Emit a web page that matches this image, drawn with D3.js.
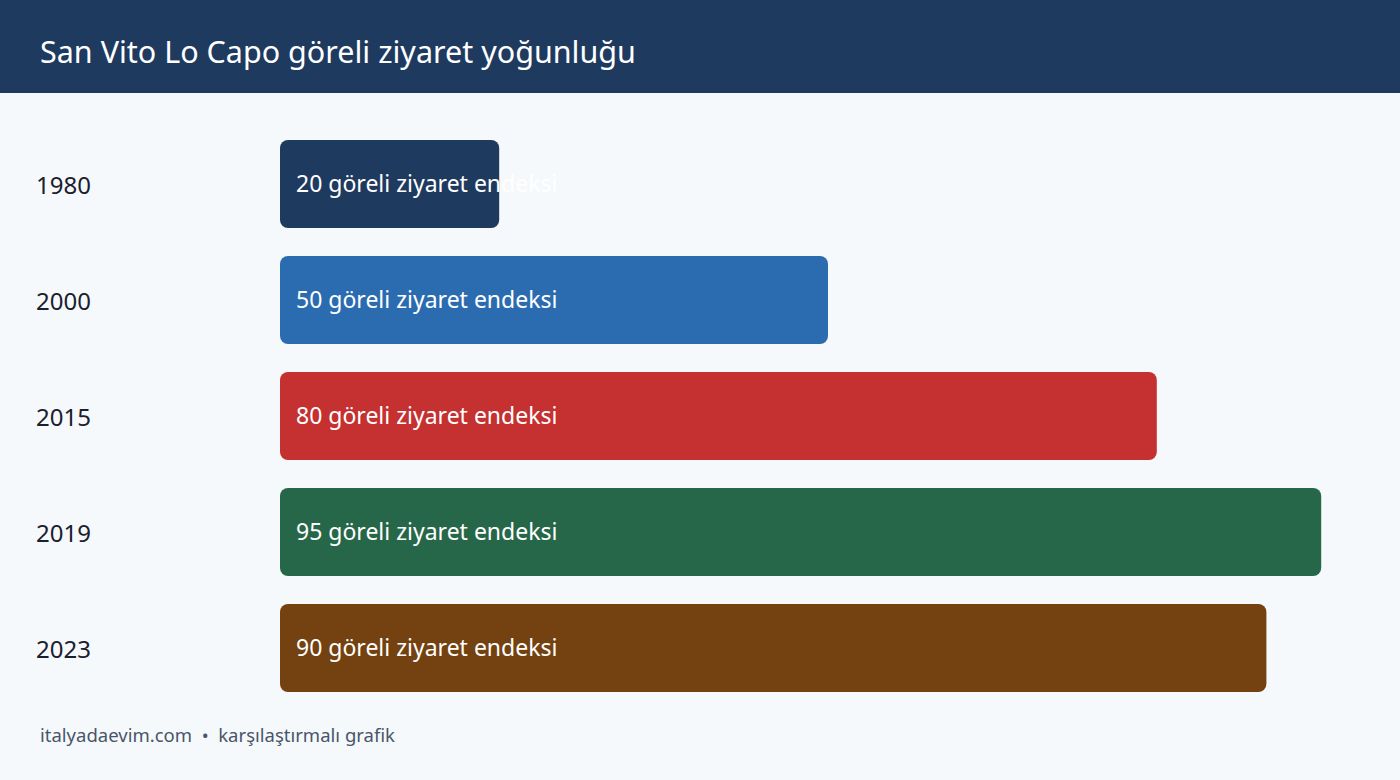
<!DOCTYPE html>
<html>
<head>
<meta charset='utf-8'>
<script src='https://d3js.org/d3.v7.min.js'></script>
<style>
body { margin: 0; background: #f5f9fc; }
</style>
</head>
<body>
<div id='chart'></div>
<script>
var years = ['1980', '2000', '2015', '2019', '2023'];
var values = [20, 50, 80, 95, 90];
var colors = ['#1f3a5f', '#2b6cb0', '#c53030', '#276749', '#744210'];
var unit = 'göreli ziyaret endeksi';
var title = 'San Vito Lo Capo göreli ziyaret yoğunluğu';
var footer = 'italyadaevim.com  •  karşılaştırmalı grafik';

var W = 1400, H = 780;
var font = "'Noto Sans', 'Open Sans', sans-serif";

var svg = d3.select('#chart')
  .append('svg')
  .attr('width', W)
  .attr('height', H)
  .style('font-family', font);

svg.append('rect')
  .attr('width', W).attr('height', H)
  .attr('fill', '#f5f9fc');

svg.append('rect')
  .attr('width', W).attr('height', 93)
  .attr('fill', '#1f3a5f');

svg.append('text')
  .attr('x', 40).attr('y', 63)
  .attr('fill', '#ffffff')
  .style('font-size', '30.5px')
  .text(title);

var x = d3.scaleLinear().domain([0, 100]).range([280, 1376]);
var y = d3.scaleBand().domain(years).range([126, 706]).paddingInner(28 / 116).paddingOuter(14 / 116);

var row = svg.selectAll('.row')
  .data(years)
  .enter()
  .append('g')
  .attr('class', 'row');

row.append('rect')
  .attr('x', x(0))
  .attr('y', function(d) { return y(d); })
  .attr('width', function(d, i) { return x(values[i]) - x(0); })
  .attr('height', y.bandwidth())
  .attr('rx', 8)
  .attr('fill', function(d, i) { return colors[i]; });

row.append('text')
  .attr('x', 36)
  .attr('y', function(d) { return y(d) + y.bandwidth() / 2 + 2; })
  .attr('dy', '0.35em')
  .attr('fill', '#1a202c')
  .style('font-size', '24px')
  .text(function(d) { return d; });

row.append('text')
  .attr('x', x(0) + 16)
  .attr('y', function(d) { return y(d) + y.bandwidth() / 2; })
  .attr('dy', '0.35em')
  .attr('fill', '#ffffff')
  .style('font-size', '23px')
  .text(function(d, i) { return values[i] + ' ' + unit; });

svg.append('text')
  .attr('x', 40).attr('y', 742)
  .attr('fill', '#4a5568')
  .style('font-size', '18.5px')
  .style('white-space', 'pre')
  .attr('xml:space', 'preserve')
  .text(footer);
</script>
</body>
</html>
